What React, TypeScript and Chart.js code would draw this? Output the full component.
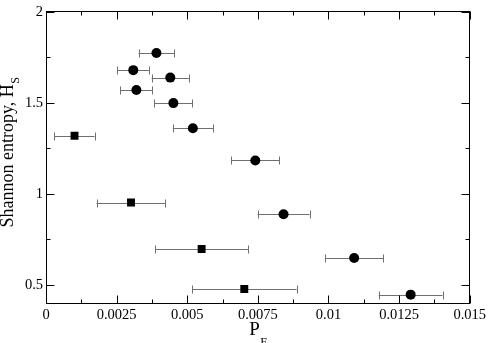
import React, { useEffect, useRef } from "react";
import { Chart, registerables } from "chart.js";

Chart.register(...registerables);

// ---- data ----
const circleX = [0.00391, 0.00309, 0.0044, 0.0032, 0.00451, 0.0052, 0.00741, 0.00841, 0.01091, 0.01291];
const circleY = [1.773, 1.679, 1.638, 1.57, 1.498, 1.36, 1.183, 0.887, 0.647, 0.446];
const circleXErr = [0.00063, 0.00056, 0.00066, 0.00057, 0.00067, 0.00071, 0.00085, 0.00092, 0.00103, 0.00113];

const squareX = [0.00101, 0.00301, 0.00551, 0.00702];
const squareY = [1.319, 0.952, 0.697, 0.477];
const squareXErr = [0.00071, 0.00122, 0.00165, 0.00185];

const xTickValues = [0, 0.0025, 0.005, 0.0075, 0.01, 0.0125, 0.015];
const xTickLabels = ["0", "0.0025", "0.005", "0.0075", "0.01", "0.0125", "0.015"];
const xMinorTicks = [0.00125, 0.00375, 0.00625, 0.00875, 0.01125, 0.01375];
const yTickValues = [0.5, 1, 1.5, 2];
const yTickLabels = ["0.5", "1", "1.5", "2"];
const yMinorTicks = [0.75, 1.25, 1.75];

const xTitle = "P";
const xTitleSub = "F";
const yTitle = "Shannon entropy, H";
const yTitleSub = "S";

const SERIF = '"Liberation Serif", "Times New Roman", serif';

const errorBarPlugin = {
  id: "errorBars",
  beforeDatasetsDraw(chart: any) {
    const ctx = chart.ctx;
    const xs = chart.scales.x;
    const ys = chart.scales.y;
    ctx.save();
    ctx.strokeStyle = "#707070";
    ctx.lineWidth = 1;
    const drawSet = (xv: number[], yv: number[], ev: number[]) => {
      for (let i = 0; i < xv.length; i++) {
        const x0 = xs.getPixelForValue(xv[i] - ev[i]);
        const x1 = xs.getPixelForValue(xv[i] + ev[i]);
        const y = Math.round(ys.getPixelForValue(yv[i])) + 0.5;
        ctx.beginPath();
        ctx.moveTo(x0, y);
        ctx.lineTo(x1, y);
        const cx0 = Math.round(x0) + 0.5;
        const cx1 = Math.round(x1) + 0.5;
        ctx.moveTo(cx0, y - 4);
        ctx.lineTo(cx0, y + 4);
        ctx.moveTo(cx1, y - 4);
        ctx.lineTo(cx1, y + 4);
        ctx.stroke();
      }
    };
    drawSet(circleX, circleY, circleXErr);
    drawSet(squareX, squareY, squareXErr);
    ctx.restore();
  },
};

const framePlugin = {
  id: "frame",
  afterDraw(chart: any) {
    const ctx = chart.ctx;
    const { left, right, top, bottom } = chart.chartArea;
    const xs = chart.scales.x;
    const ys = chart.scales.y;
    const L = Math.floor(left) + 0.5;
    const R = Math.floor(right) + 0.5;
    const T = Math.floor(top) + 0.5;
    const B = Math.floor(bottom) + 0.5;
    ctx.save();
    ctx.strokeStyle = "#000";
    ctx.lineWidth = 1;
    ctx.strokeRect(L, T, R - L, B - T);
    ctx.beginPath();
    const xt = (v: number, len: number) => {
      const px = Math.round(xs.getPixelForValue(v)) + 0.5;
      ctx.moveTo(px, B);
      ctx.lineTo(px, B - len);
      ctx.moveTo(px, T);
      ctx.lineTo(px, T + len);
    };
    const yt = (v: number, len: number) => {
      const py = Math.round(ys.getPixelForValue(v)) + 0.5;
      ctx.moveTo(L, py);
      ctx.lineTo(L + len, py);
      ctx.moveTo(R, py);
      ctx.lineTo(R - len, py);
    };
    xTickValues.forEach((v) => xt(v, 8));
    xMinorTicks.forEach((v) => xt(v, 4));
    yTickValues.forEach((v) => yt(v, 8));
    yMinorTicks.forEach((v) => yt(v, 4));
    ctx.stroke();

    // axis titles
    ctx.fillStyle = "#000";
    ctx.textBaseline = "alphabetic";
    // x title
    ctx.font = `19px ${SERIF}`;
    const pw = ctx.measureText(xTitle).width;
    ctx.font = `12px ${SERIF}`;
    const fw = ctx.measureText(xTitleSub).width;
    const cx = (left + right) / 2;
    const sx = cx - (pw + fw) / 2;
    ctx.font = `19px ${SERIF}`;
    ctx.textAlign = "left";
    ctx.fillText(xTitle, sx, 335);
    ctx.font = `12px ${SERIF}`;
    ctx.fillText(xTitleSub, sx + pw + 0.5, 345.5);

    // y title
    ctx.save();
    ctx.font = `18px ${SERIF}`;
    const hw = ctx.measureText(yTitle).width;
    ctx.font = `12px ${SERIF}`;
    const sw = ctx.measureText(yTitleSub).width;
    const cy = 152.5;
    ctx.translate(12.5, cy);
    ctx.rotate(-Math.PI / 2);
    const start = -(hw + sw) / 2;
    ctx.font = `18px ${SERIF}`;
    ctx.fillText(yTitle, start, 0);
    ctx.font = `12px ${SERIF}`;
    ctx.fillText(yTitleSub, start + hw + 0.5, 6);
    ctx.restore();

    ctx.restore();
  },
};

export default function App() {
  const ref = useRef<HTMLCanvasElement | null>(null);

  useEffect(() => {
    if (!ref.current) return;
    const chart = new Chart(ref.current, {
      type: "scatter",
      data: {
        datasets: [
          {
            label: "circles",
            data: circleX.map((x, i) => ({ x, y: circleY[i] })),
            pointStyle: "circle",
            pointRadius: 5,
            backgroundColor: "#000",
            borderWidth: 0,
          },
          {
            label: "squares",
            data: squareX.map((x, i) => ({ x, y: squareY[i] })),
            pointStyle: "rect",
            pointRadius: 5.6,
            backgroundColor: "#000",
            borderWidth: 0,
          },
        ],
      },
      options: {
        responsive: false,
        animation: false,
        devicePixelRatio: 1,
        layout: { padding: { top: 6, right: 18, left: 0, bottom: 0 } },
        plugins: {
          legend: { display: false },
          tooltip: { enabled: false },
        },
        scales: {
          x: {
            type: "linear",
            min: 0,
            max: 0.015,
            grid: { display: false, drawTicks: false },
            border: { display: false },
            afterBuildTicks: (scale: any) => {
              scale.ticks = xTickValues.map((v) => ({ value: v }));
            },
            afterFit: (scale: any) => {
              scale.height = 40;
            },
            ticks: {
              padding: 3,
              color: "#000",
              font: { family: SERIF, size: 14.5 },
              maxRotation: 0,
              autoSkip: false,
              callback: (v: any) => {
                const i = xTickValues.findIndex((t) => Math.abs(t - v) < 1e-9);
                return i >= 0 ? xTickLabels[i] : "";
              },
            },
          },
          y: {
            type: "linear",
            min: 0.4,
            max: 2,
            grid: { display: false, drawTicks: false },
            border: { display: false },
            afterBuildTicks: (scale: any) => {
              scale.ticks = yTickValues.map((v) => ({ value: v }));
            },
            afterFit: (scale: any) => {
              scale.width = 46;
            },
            ticks: {
              padding: 3,
              color: "#000",
              font: { family: SERIF, size: 14.5 },
              autoSkip: false,
              callback: (v: any) => {
                const i = yTickValues.findIndex((t) => Math.abs(t - v) < 1e-9);
                return i >= 0 ? yTickLabels[i] : "";
              },
            },
          },
        },
      },
      plugins: [errorBarPlugin, framePlugin],
    } as any);
    return () => chart.destroy();
  }, []);

  return (
    <div style={{ position: "absolute", left: 0, top: 0, width: 489, height: 343, background: "#fff" }}>
      <canvas ref={ref} width={489} height={343} style={{ display: "block" }} />
    </div>
  );
}
